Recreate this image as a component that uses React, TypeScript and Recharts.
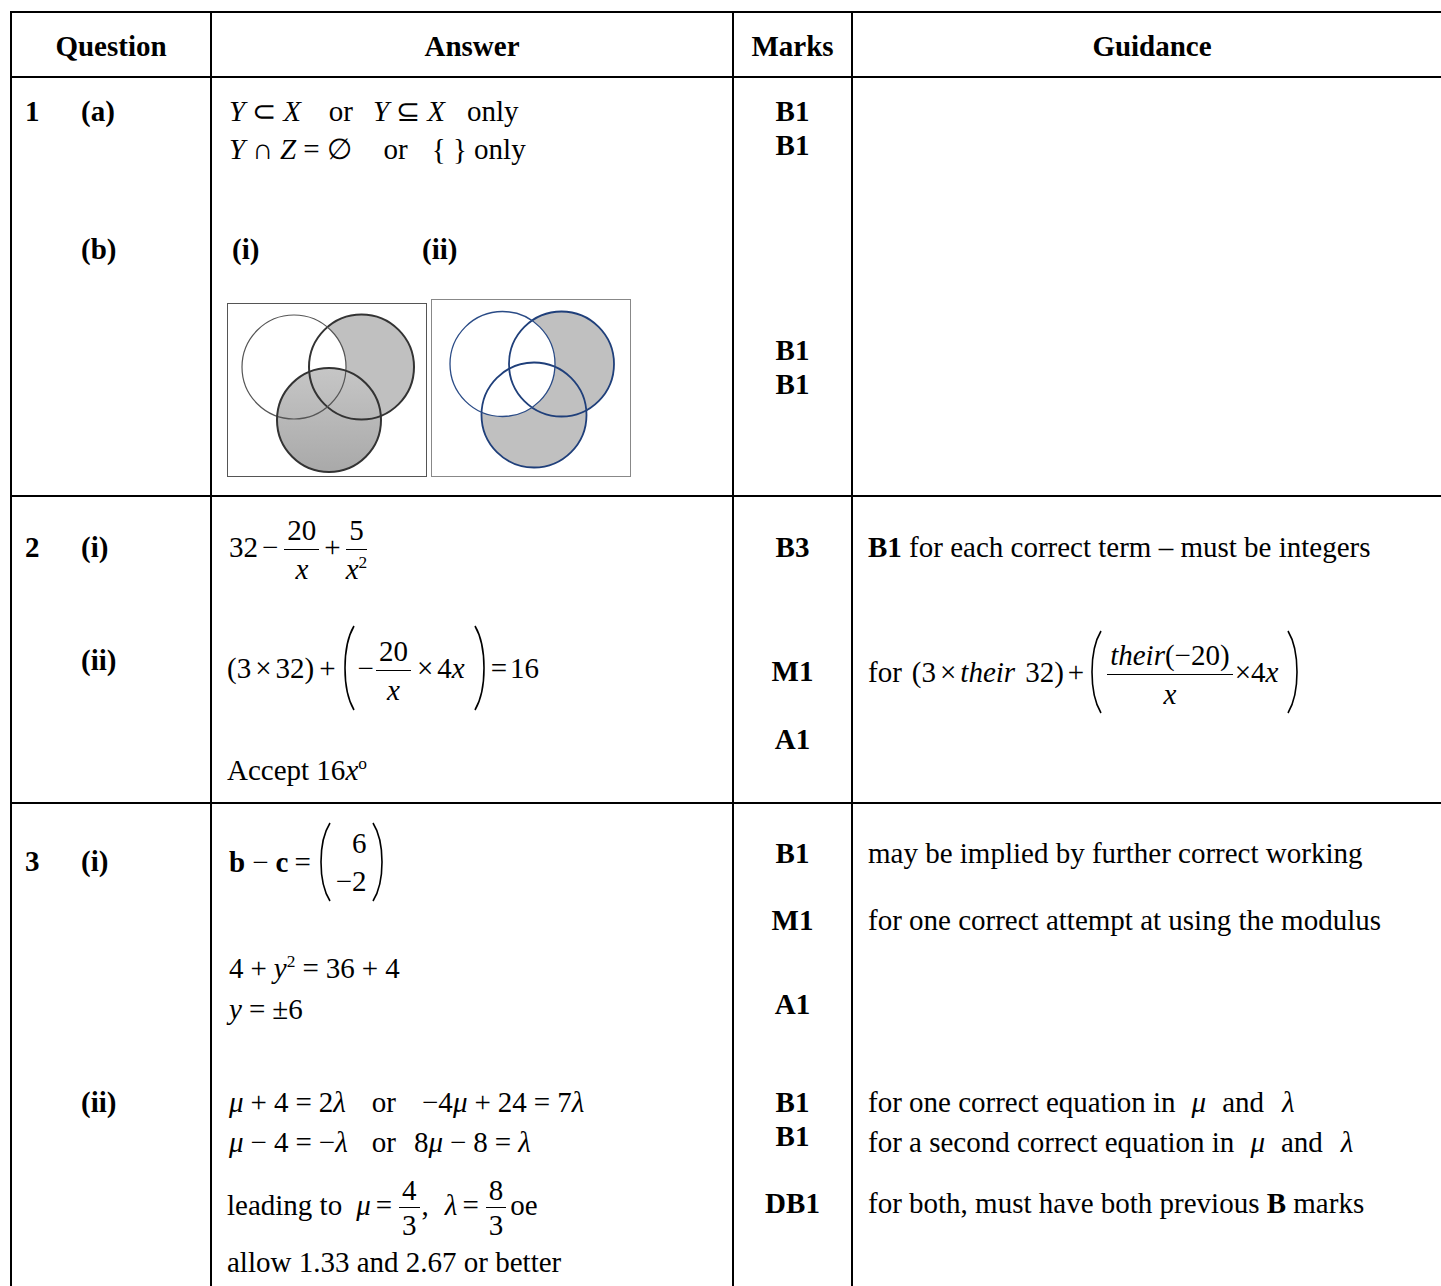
import React from 'react';
import { ScatterChart, Scatter, XAxis, YAxis } from 'recharts';

// ---- content ----
const HEADERS = ['Question', 'Answer', 'Marks', 'Guidance'];
const QUESTION_LABELS = ['1', '(a)', '(b)', '2', '(i)', '(ii)', '3', '(i)', '(ii)'];
const MARK_LABELS = ['B1', 'B1', 'B1', 'B1', 'B3', 'M1', 'A1', 'B1', 'M1', 'A1', 'B1', 'B1', 'DB1'];
const GUIDANCE_TEXT = [
  'may be implied by further correct working',
  'for one correct attempt at using the modulus',
  'for one correct equation in',
  'for a second correct equation in',
];

// Venn circles, in box units (y measured upwards)
const VENN_I = [
  { set: 'B', x: 134.5, y: 110, r: 52.5 },
  { set: 'A', x: 67, y: 110, r: 52 },
  { set: 'C', x: 102, y: 57, r: 52 },
];
const VENN_II = [
  { set: 'B', x: 130.5, y: 113, r: 52.5 },
  { set: 'C', x: 103, y: 62, r: 52.5 },
  { set: 'A', x: 71.5, y: 113, r: 52.5 },
];

// ---- layout ----
const W = 1441;
const H = 1286;
const FONT = "'Liberation Serif', 'Times New Roman', serif";
const COL_X = [11, 211, 732.5, 852];
const ROW_Y = [12, 77, 495.5, 802.5];
const QUESTION_POS = [
  [25, 111], [81, 111], [81, 249], [25, 547], [81, 547], [81, 660], [25, 861], [81, 861], [81, 1102],
];
const MARK_Y = [111, 145, 350, 384, 547, 671, 739, 853, 920, 1004, 1102, 1136, 1203];
const HEADER_X = [111, 472, 792.5, 1152];
const MARK_X = 792.5;
const GUIDE_X = 868;
const ANS_X = 229;

const SHADE = '#c0c0c0';
const FILL_I: Record<string, string> = { A: '#ffffff', B: SHADE, C: 'url(#vennGrad)' };
const STROKE_I: Record<string, [string, number]> = { A: ['#555', 1.2], B: ['#333', 2], C: ['#333', 2] };
const FILL_II: Record<string, string> = { A: '#ffffff', B: SHADE, C: SHADE };
const STROKE_II: Record<string, [string, number]> = { A: ['#2a4b86', 1.3], B: ['#1f3f7a', 1.8], C: ['#1f3f7a', 1.8] };

const At = ({ x, y, center, bold, children }: any) => (
  <div
    style={{
      position: 'absolute',
      left: x,
      top: y,
      transform: center ? 'translate(-50%, -50%)' : 'translateY(-50%)',
      display: 'flex',
      alignItems: 'center',
      whiteSpace: 'nowrap',
      fontWeight: bold ? 700 : 400,
      lineHeight: '34px',
    }}
  >
    {children}
  </div>
);

const Op = ({ children, m = 6 }: any) => <span style={{ margin: `0 ${m}px` }}>{children}</span>;
const Gap = ({ w }: any) => <span style={{ display: 'inline-block', width: w }} />;

function Frac({ num, den, lh = 34 }: any) {
  return (
    <span style={{ display: 'inline-flex', flexDirection: 'column', alignItems: 'center', margin: '0 2px', marginTop: 5 }}>
      <span style={{ lineHeight: `${lh}px`, padding: '0 3px' }}>{num}</span>
      <span style={{ alignSelf: 'stretch', borderTop: '1.5px solid #000' }} />
      <span style={{ lineHeight: `${lh}px` }}>{den}</span>
    </span>
  );
}

function Paren({ h, right }: any) {
  const w = 13;
  const d = right
    ? `M 2 1 C ${w + 1} ${h * 0.25}, ${w + 1} ${h * 0.75}, 2 ${h - 1}`
    : `M ${w - 2} 1 C -1 ${h * 0.25}, -1 ${h * 0.75}, ${w - 2} ${h - 1}`;
  return (
    <svg width={w} height={h} style={{ display: 'block', margin: '0 2px' }}>
      <path d={d} fill="none" stroke="#000" strokeWidth={1.6} />
    </svg>
  );
}

const I = ({ children }: any) => <i>{children}</i>;
const Sup = ({ children }: any) => (
  <sup style={{ fontSize: '0.6em', verticalAlign: 'super', lineHeight: 0 }}>{children}</sup>
);

function Venn({ data, fills, strokes, w, h }: any) {
  const pxPerUnit = 1;
  const fillShape = (props: any) => {
    const { cx, cy, payload } = props;
    return <circle cx={cx} cy={cy} r={payload.r * pxPerUnit} fill={fills[payload.set]} stroke="none" />;
  };
  const lineShape = (props: any) => {
    const { cx, cy, payload } = props;
    const [c, sw] = strokes[payload.set];
    return <circle cx={cx} cy={cy} r={payload.r * pxPerUnit} fill="none" stroke={c} strokeWidth={sw} />;
  };
  return (
    <ScatterChart width={w} height={h} margin={{ top: 0, right: 0, bottom: 0, left: 0 }}>
      <XAxis type="number" dataKey="x" domain={[0, w]} hide />
      <YAxis type="number" dataKey="y" domain={[0, h]} hide />
      <Scatter data={data} shape={fillShape} isAnimationActive={false} />
      <Scatter data={data} shape={lineShape} isAnimationActive={false} />
    </ScatterChart>
  );
}

export default function App() {
  return (
    <div
      style={{
        position: 'absolute',
        left: 0,
        top: 0,
        width: W,
        height: H,
        overflow: 'hidden',
        background: '#fff',
        fontFamily: FONT,
        fontSize: 29,
        color: '#000',
      }}
    >
      <svg width={0} height={0} style={{ position: 'absolute' }}>
        <defs>
          <linearGradient id="vennGrad" x1="0" y1="0" x2="0" y2="1">
            <stop offset="0%" stopColor="#c6c6c6" />
            <stop offset="100%" stopColor="#a9a9a9" />
          </linearGradient>
        </defs>
      </svg>

      {/* grid */}
      {COL_X.map((x) => (
        <div key={`v${x}`} style={{ position: 'absolute', left: x - 1, top: ROW_Y[0] - 1, width: 2.4, height: H, background: '#000' }} />
      ))}
      {ROW_Y.map((y) => (
        <div key={`h${y}`} style={{ position: 'absolute', left: COL_X[0] - 1, top: y - 1, width: W, height: 2.4, background: '#000' }} />
      ))}

      {/* header */}
      {HEADERS.map((t, i) => (
        <At key={t} x={HEADER_X[i]} y={46} center bold>{t}</At>
      ))}

      {/* question column */}
      {QUESTION_LABELS.map((t, i) => (
        <At key={`q${i}`} x={QUESTION_POS[i][0]} y={QUESTION_POS[i][1]} bold>{t}</At>
      ))}

      {/* marks column */}
      {MARK_LABELS.map((t, i) => (
        <At key={`m${i}`} x={MARK_X} y={MARK_Y[i]} center bold>{t}</At>
      ))}

      {/* answers: Q1 */}
      <At x={ANS_X} y={111}>
        <I>Y</I><Op m={7}>⊂</Op><I>X</I>
        <Gap w={28} /><span>or</span><Gap w={20} />
        <I>Y</I><Op m={7}>⊆</Op><I>X</I>
        <Gap w={22} /><span>only</span>
      </At>
      <At x={ANS_X} y={149}>
        <I>Y</I><Op m={7}>∩</Op><I>Z</I><Op m={7}>=</Op><span>∅</span>
        <Gap w={32} /><span>or</span><Gap w={24} />
        <span>{'{ } only'}</span>
      </At>
      <At x={232} y={249} bold>(i)</At>
      <At x={422} y={249} bold>(ii)</At>

      <div style={{ position: 'absolute', left: 227, top: 303, width: 200, height: 174, border: '1.5px solid #555', boxSizing: 'border-box' }} />
      <div style={{ position: 'absolute', left: 227, top: 303 }}>
        <Venn data={VENN_I} fills={FILL_I} strokes={STROKE_I} w={200} h={174} />
      </div>
      <div style={{ position: 'absolute', left: 431, top: 299, width: 200, height: 178, border: '1.5px solid #888', boxSizing: 'border-box' }} />
      <div style={{ position: 'absolute', left: 431, top: 299 }}>
        <Venn data={VENN_II} fills={FILL_II} strokes={STROKE_II} w={200} h={178} />
      </div>

      {/* answers: Q2 */}
      <At x={ANS_X} y={547}>
        <span>32</span><Op m={4}>−</Op>
        <Frac num="20" den={<I>x</I>} lh={38} />
        <Op m={3}>+</Op>
        <Frac num="5" den={<span><I>x</I><Sup>2</Sup></span>} lh={38} />
      </At>
      <At x={227} y={668}>
        <span>(3</span><Op m={4}>×</Op><span>32)</span><Op m={5}>+</Op>
        <Paren h={86} />
        <span>−</span>
        <Frac num="20" den={<I>x</I>} lh={38} />
        <Op m={4}>×</Op><span>4<I>x</I></span>
        <Gap w={6} />
        <Paren h={86} right />
        <Op m={3}>=</Op><span>16</span>
      </At>
      <At x={227} y={770}>
        <span>Accept 16<I>x</I><Sup>o</Sup></span>
      </At>

      {/* answers: Q3 */}
      <At x={ANS_X} y={862}>
        <b>b</b><Op m={7}>−</Op><b>c</b><Op m={6}>=</Op>
        <Paren h={80} />
        <span style={{ display: 'inline-flex', flexDirection: 'column', alignItems: 'flex-end', lineHeight: '38px', padding: '0 2px' }}>
          <span>6</span>
          <span>−2</span>
        </span>
        <Paren h={80} right />
      </At>
      <At x={ANS_X} y={968}>
        <span>4</span><Op m={7}>+</Op><span><I>y</I><Sup>2</Sup></span><Op m={7}>=</Op><span>36</span><Op m={7}>+</Op><span>4</span>
      </At>
      <At x={ANS_X} y={1009}>
        <I>y</I><Op m={7}>=</Op><span>±6</span>
      </At>
      <At x={ANS_X} y={1102}>
        <I>μ</I><Op m={7}>+</Op><span>4</span><Op m={7}>=</Op><span>2<I>λ</I></span>
        <Gap w={26} /><span>or</span><Gap w={26} />
        <span>−4<I>μ</I></span><Op m={7}>+</Op><span>24</span><Op m={7}>=</Op><span>7<I>λ</I></span>
      </At>
      <At x={ANS_X} y={1142}>
        <I>μ</I><Op m={7}>−</Op><span>4</span><Op m={7}>=</Op><span>−<I>λ</I></span>
        <Gap w={24} /><span>or</span><Gap w={18} />
        <span>8<I>μ</I></span><Op m={7}>−</Op><span>8</span><Op m={7}>=</Op><I>λ</I>
      </At>
      <At x={227} y={1205}>
        <span>leading to</span>
        <Gap w={14} /><I>μ</I><Op m={5}>=</Op>
        <Frac num="4" den="3" />
        <span>,</span>
        <Gap w={16} /><I>λ</I><Op m={5}>=</Op>
        <Frac num="8" den="3" />
        <Gap w={2} /><span>oe</span>
      </At>
      <At x={227} y={1262}>
        <span>allow 1.33 and 2.67 or better</span>
      </At>

      {/* guidance */}
      <At x={GUIDE_X} y={547}>
        <span><b>B1</b> for each correct term – must be integers</span>
      </At>
      <At x={GUIDE_X} y={672}>
        <span>for</span>
        <Gap w={10} /><span>(3</span><Op m={4}>×</Op><I>their</I><Gap w={10} /><span>32)</span><Op m={4}>+</Op>
        <Paren h={84} />
        <Frac num={<span><I>their</I>(−20)</span>} den={<I>x</I>} lh={38} />
        <span>×4<I>x</I></span>
        <Gap w={6} />
        <Paren h={84} right />
      </At>
      <At x={GUIDE_X} y={853}><span>{GUIDANCE_TEXT[0]}</span></At>
      <At x={GUIDE_X} y={920}><span>{GUIDANCE_TEXT[1]}</span></At>
      <At x={GUIDE_X} y={1102}>
        <span>{GUIDANCE_TEXT[2]}</span>
        <Gap w={16} /><I>μ</I>
        <Gap w={16} /><span>and</span>
        <Gap w={18} /><I>λ</I>
      </At>
      <At x={GUIDE_X} y={1142}>
        <span>{GUIDANCE_TEXT[3]}</span>
        <Gap w={16} /><I>μ</I>
        <Gap w={16} /><span>and</span>
        <Gap w={18} /><I>λ</I>
      </At>
      <At x={GUIDE_X} y={1203}>
        <span>for both, must have both previous <b>B</b> marks</span>
      </At>
    </div>
  );
}
